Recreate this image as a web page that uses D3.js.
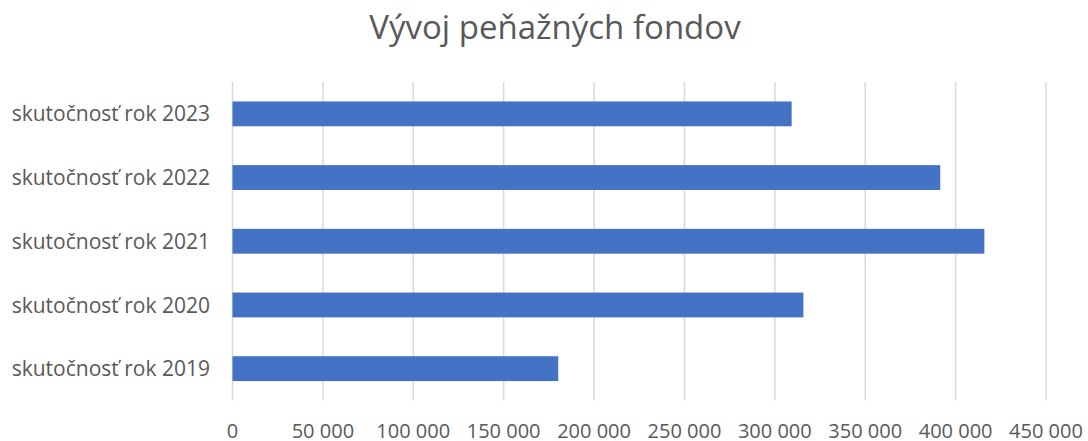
<!DOCTYPE html>
<html>
<head>
<meta charset="utf-8">
<script src="https://cdn.jsdelivr.net/npm/d3@7"></script>
<style>
  body { margin: 0; background: #fff; }
  text { font-family: "Open Sans", sans-serif; }
</style>
</head>
<body>
<div id="chart"></div>
<script>
// data
const categories = ["skutočnosť rok 2023", "skutočnosť rok 2022", "skutočnosť rok 2021", "skutočnosť rok 2020", "skutočnosť rok 2019"];
const values = [309300, 391500, 415900, 315800, 180200];
const xTicks = [0, 50000, 100000, 150000, 200000, 250000, 300000, 350000, 400000, 450000];

const width = 1088, height = 441;
const margin = {top: 82, right: 42, bottom: 41, left: 232.5};

const svg = d3.select("#chart").append("svg")
    .attr("width", width)
    .attr("height", height);

// title
svg.append("text")
    .attr("x", 555)
    .attr("y", 39)
    .attr("text-anchor", "middle")
    .attr("font-size", 33)
    .attr("fill", "#595959")
    .text("Vývoj peňažných fondov");

const x = d3.scaleLinear()
    .domain([0, 450000])
    .range([margin.left, 1046]);

const y = d3.scaleBand()
    .domain(categories)
    .range([margin.top, 400.5])
    .paddingInner(0.61)
    .paddingOuter(0.305);

// number format with space as thousands separator
const fmt = d3.formatLocale({decimal: ",", thousands: "\u00a0", grouping: [3], currency: ["", " €"]}).format(",d");

// gridlines
svg.append("g")
    .selectAll("line")
    .data(xTicks)
    .join("line")
    .attr("x1", d => x(d))
    .attr("x2", d => x(d))
    .attr("y1", margin.top)
    .attr("y2", 400.5)
    .attr("stroke", "#d9d9d9")
    .attr("stroke-width", 1.5);

// bars
svg.append("g")
    .selectAll("rect")
    .data(values)
    .join("rect")
    .attr("x", x(0))
    .attr("y", (d, i) => y(categories[i]))
    .attr("width", d => x(d) - x(0))
    .attr("height", y.bandwidth())
    .attr("fill", "#4472c4");

// x tick labels
svg.append("g")
    .selectAll("text")
    .data(xTicks)
    .join("text")
    .attr("x", d => x(d))
    .attr("y", 438)
    .attr("text-anchor", "middle")
    .attr("font-size", 20)
    .attr("fill", "#595959")
    .text(d => fmt(d));

// category labels
svg.append("g")
    .selectAll("text")
    .data(categories)
    .join("text")
    .attr("x", 210)
    .attr("y", d => y(d) + y.bandwidth() / 2)
    .attr("dy", "0.36em")
    .attr("text-anchor", "end")
    .attr("font-size", 21)
    .attr("fill", "#595959")
    .text(d => d);
</script>
</body>
</html>
